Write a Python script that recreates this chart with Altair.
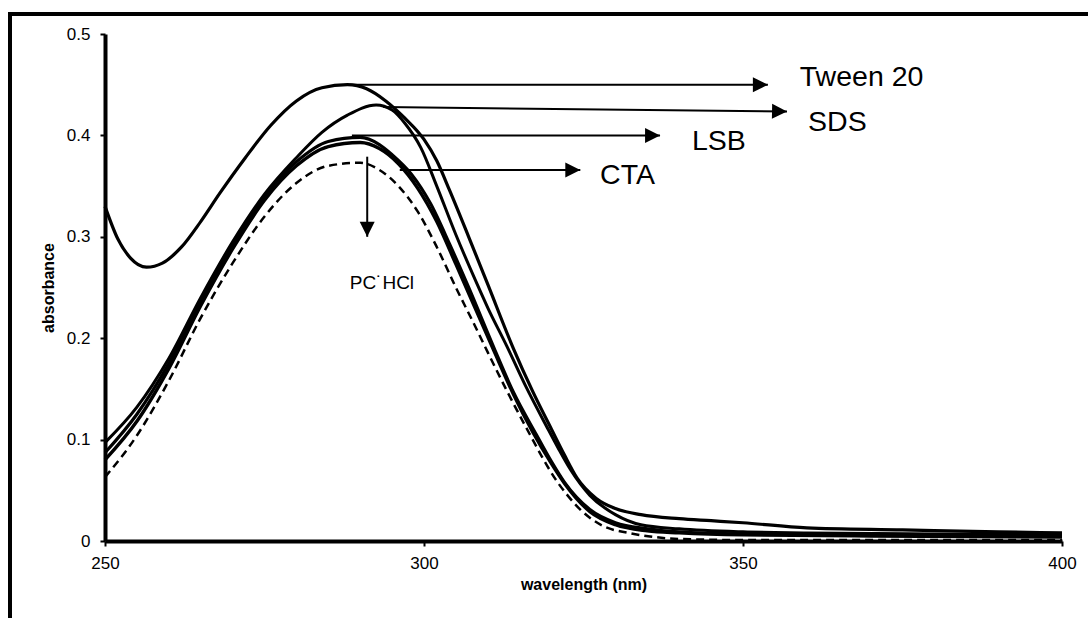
import altair as alt
import pandas as pd

# ---- data ----
tween_wl = [250, 252, 254, 256.5, 259, 262, 265, 268, 272, 276, 280, 284, 288, 291, 294, 297, 300, 302, 304, 307, 310, 314, 317, 320, 322, 324, 327, 330, 334, 340, 345, 350, 360, 375, 390, 400]
tween_abs = [.330, .298, .279, .270, .274, .290, .315, .343, .378, .410, .434, .447, .450, .446, .434, .417, .396, .375, .346, .300, .253, .190, .148, .110, .085, .062, .042, .032, .026, .022, .020, .018, .013, .011, .009, .008]

sds_wl = [250, 255, 260, 265, 270, 275, 280, 284, 288, 292.5, 295, 297, 299.5, 302, 305, 308, 310, 313, 316, 319.3, 321, 323, 326, 330, 334, 340, 350, 360, 380, 400]
sds_abs = [.097, .132, .180, .240, .295, .342, .378, .403, .420, .430, .425, .412, .388, .350, .302, .258, .230, .192, .152, .112, .092, .070, .045, .026, .016, .012, .009, .008, .007, .006]

lsb_wl = [250, 255, 260, 265, 270, 275, 280, 285, 290, 293, 295, 298, 301, 304, 307, 311, 314, 317.6, 320, 322, 326, 330, 335, 340, 350, 370, 400]
lsb_abs = [.087, .125, .175, .236, .292, .340, .374, .394, .398, .391, .381, .362, .333, .293, .250, .190, .147, .105, .078, .058, .031, .018, .012, .009, .007, .006, .005]

cta_wl = [250, 255, 260, 265, 270, 275, 280, 285, 290, 293, 296, 299, 302, 305, 308, 311, 314, 317, 320, 322, 326, 330, 335, 340, 350, 370, 400]
cta_abs = [.080, .118, .170, .232, .288, .336, .370, .389, .393, .387, .372, .348, .315, .273, .230, .187, .145, .108, .076, .057, .029, .016, .010, .008, .006, .005, .004]

pc_wl = [250, 255, 260, 265, 270, 275, 280, 285, 290, 293, 296, 299, 302, 305, 308, 310, 313, 316.6, 318.5, 320.5, 322.5, 324.5, 328, 332, 336, 340, 350, 400]
pc_abs = [.063, .104, .158, .220, .274, .320, .353, .370, .373, .366, .350, .325, .290, .250, .212, .186, .148, .105, .083, .062, .045, .031, .015, .008, .004, .002, .001, .001]

x_ticks = [250, 300, 350, 400]
y_ticks = [0, 0.1, 0.2, 0.3, 0.4, 0.5]

# annotation arrows: start (wl, abs) -> tip (wl, abs)
arrow_label = ["Tween 20", "SDS", "LSB", "CTA", "PC˙HCl"]
arrow_x0 = [288.4, 293.6, 288.7, 296.2, 291.1]
arrow_y0 = [0.450, 0.428, 0.400, 0.366, 0.379]
arrow_x1 = [353.9, 356.9, 337.0, 324.5, 291.1]
arrow_y1 = [0.450, 0.4235, 0.400, 0.366, 0.300]
arrow_angle = [0, 1, 0, 0, 90]
label_x = [358.9, 360.2, 342.0, 327.6, 293.4]
label_y = [0.458, 0.4136, 0.394, 0.361, 0.2547]
label_size = [28.5, 28.5, 28.5, 28.5, 19]
label_align = ["left", "left", "left", "left", "center"]

FONT = "Liberation Sans"

xscale = alt.Scale(domain=[250, 400], nice=False, zero=False)
yscale = alt.Scale(domain=[0, 0.5], nice=False)

xenc = alt.X("wl:Q", scale=xscale,
             axis=alt.Axis(values=x_ticks, title="wavelength (nm)", labelPadding=9,
                           labelFlush=False, titlePadding=5))
yenc = alt.Y("a:Q", scale=yscale,
             axis=alt.Axis(values=y_ticks, title="absorbance", format="~g",
                           labelPadding=10, labelFlush=False, titlePadding=10))


def curve(wl, ab, dash=None, width=3.0):
    df = pd.DataFrame({"wl": wl, "a": ab})
    kw = dict(color="black", strokeWidth=width, interpolate="monotone")
    if dash:
        kw["strokeDash"] = dash
    return alt.Chart(df).mark_line(**kw).encode(x=xenc, y=yenc)


layers = [
    curve(pc_wl, pc_abs, dash=[8, 5], width=2.5),
    curve(cta_wl, cta_abs, width=3.4),
    curve(lsb_wl, lsb_abs, width=3.2),
    curve(sds_wl, sds_abs, width=3.0),
    curve(tween_wl, tween_abs, width=3.2),
]

adf = pd.DataFrame({
    "label": arrow_label, "x0": arrow_x0, "y0": arrow_y0, "x1": arrow_x1,
    "y1": arrow_y1, "ang": arrow_angle, "lx": label_x, "ly": label_y,
    "fs": label_size, "al": label_align,
})

arrow_lines = alt.Chart(adf).mark_rule(color="black", strokeWidth=2).encode(
    x=alt.X("x0:Q", scale=xscale), y=alt.Y("y0:Q", scale=yscale),
    x2="x1:Q", y2="y1:Q")
layers.append(arrow_lines)

head_path = "M0,0L-1,-0.5L-1,0.5Z"
for i in range(len(arrow_label)):
    sub = adf.iloc[[i]]
    head = alt.Chart(sub).mark_point(shape=head_path, filled=True, size=900,
                                     color="black", opacity=1,
                                     angle=arrow_angle[i]).encode(
        x=alt.X("x1:Q", scale=xscale), y=alt.Y("y1:Q", scale=yscale))
    txt = alt.Chart(sub).mark_text(font=FONT, fontSize=label_size[i], color="black",
                                   align=label_align[i], baseline="middle").encode(
        x=alt.X("lx:Q", scale=xscale), y=alt.Y("ly:Q", scale=yscale), text="label:N")
    layers += [head, txt]

# outer frame (left and top border of the figure)
fdf = pd.DataFrame({"k": [0]})
frame_left = alt.Chart(fdf).mark_rule(color="black", strokeWidth=4).encode(
    x=alt.value(-95), y=alt.value(-22), y2=alt.value(620))
frame_top = alt.Chart(fdf).mark_rule(color="black", strokeWidth=4).encode(
    x=alt.value(-97), x2=alt.value(1000), y=alt.value(-20))
layers += [frame_left, frame_top]

chart = alt.layer(*layers).properties(
    width=957, height=507,
    padding={"left": 105, "top": 34, "right": 26, "bottom": 77},
    autosize=alt.AutoSizeParams(type="none"),
    background="white",
).configure_view(stroke=None).configure_axis(
    grid=False, domainColor="black", domainWidth=4, tickColor="black",
    tickWidth=2, tickSize=5, labelFont=FONT, labelFontSize=17, labelColor="black",
    titleFont=FONT, titleFontSize=16, titleFontWeight="bold", titleColor="black",
)

chart.save("out.html", embed_options={"renderer": "svg", "actions": False})
